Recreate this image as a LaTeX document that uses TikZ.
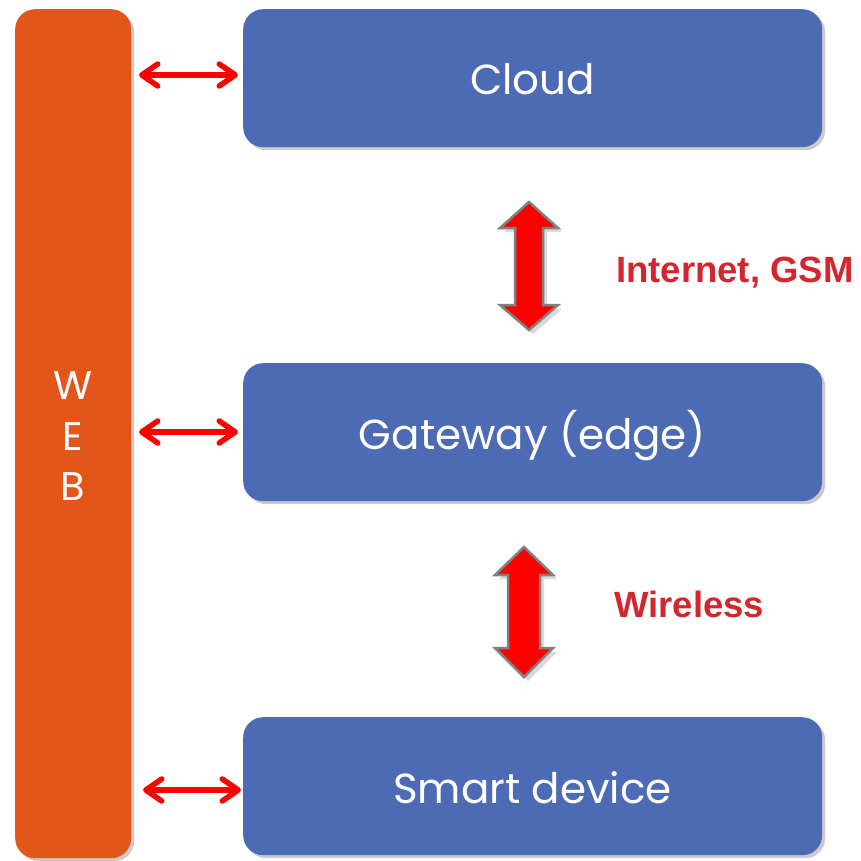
\documentclass[tikz,border=0pt]{standalone}
\usepackage{fontspec}
\newfontfamily\boxfont{Poppins}
\newfontfamily\labfont{Liberation Sans}
\usetikzlibrary{arrows.meta,shadows}
\definecolor{webor}{RGB}{226,86,26}
\definecolor{boxbl}{RGB}{77,107,180}
\definecolor{labred}{RGB}{212,38,46}
\definecolor{arrred}{RGB}{255,0,0}
\definecolor{arrgray}{RGB}{128,128,128}
\begin{document}
\begin{tikzpicture}[x=1pt,y=-1pt,
  layerbox/.style={fill=boxbl, rounded corners=20pt, minimum width=579pt, minimum height=138pt, inner sep=0pt, anchor=north west,
     drop shadow={shadow xshift=3pt, shadow yshift=-3pt, opacity=0.35, fill=black!60}},
  webbar/.style={fill=webor, rounded corners=20pt, minimum width=116pt, minimum height=849pt, inner sep=0pt, anchor=north west,
     drop shadow={shadow xshift=3pt, shadow yshift=-3pt, opacity=0.35, fill=black!60}},
  boxtext/.style={text=white, font=\boxfont\fontsize{42}{50}\selectfont, anchor=base, inner sep=0pt},
  webtext/.style={text=white, font=\boxfont\fontsize{40}{48}\selectfont, anchor=base, inner sep=0pt},
  lab/.style={text=labred, font=\labfont\bfseries\fontsize{36.5}{44}\selectfont, anchor=base west, inner sep=0pt},
  link/.style={draw=arrred, line width=5.5pt, {Straight Barb[length=16pt,width=22pt,round]}-{Straight Barb[length=16pt,width=22pt,round]}},
  bigarrow/.style={fill=arrred, draw=arrgray, line width=2.5pt, line join=miter,
     drop shadow={shadow xshift=4pt, shadow yshift=-4pt, opacity=0.3, fill=black!50}}
]
\useasboundingbox (0,0) rectangle (861,860);

\node[webbar] (web) at (15,9) {};
\node[layerbox] (cloud) at (243,9) {};
\node[layerbox] (gate) at (243,363) {};
\node[layerbox] (dev) at (243,717) {};

\node[boxtext] (tcloud) at (532.5,94) {Cloud};
\node[boxtext] (tgate) at (532.5,449) {Gateway (edge)};
\node[boxtext] (tdev) at (532.5,803) {Smart device};

\node[webtext] (tw) at (73,399) {W};
\node[webtext] (te) at (73,450) {E};
\node[webtext] (tb) at (73,500) {B};

% thin double arrows
\coordinate (a1l) at (139,75);  \coordinate (a1r) at (238,75);
\coordinate (a2l) at (139,432); \coordinate (a2r) at (238,432);
\coordinate (a3l) at (143,790); \coordinate (a3r) at (241,790);
\draw[link] (a1l) -- (a1r);
\draw[link] (a2l) -- (a2r);
\draw[link] (a3l) -- (a3r);

% block double arrows
\path[bigarrow] (529,202) -- (558,228) -- (543,228) -- (543,305) -- (558,305) -- (529,330)
   -- (500,305) -- (515,305) -- (515,228) -- (500,228) -- cycle;
\path[bigarrow] (524,547) -- (553,575) -- (540,575) -- (540,648) -- (553,648) -- (524,677)
   -- (495,648) -- (508,648) -- (508,575) -- (495,575) -- cycle;

\node[lab] (l1) at (616,282) {Internet, GSM};
\node[lab] (l2) at (614,617) {Wireless};
\end{tikzpicture}
\end{document}
